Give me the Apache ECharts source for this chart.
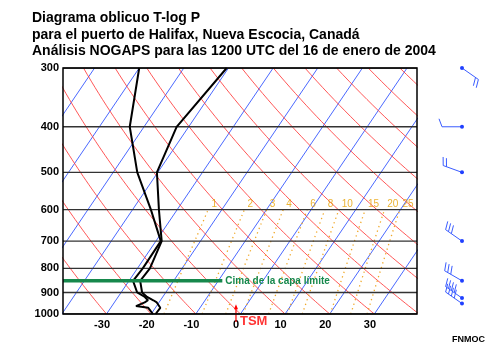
<!DOCTYPE html>
<html><head><meta charset="utf-8">
<script src="https://cdn.jsdelivr.net/npm/echarts@6/dist/echarts.min.js"></script>
<style>html,body{margin:0;padding:0;background:#fff}#c{width:500px;height:350px}</style>
</head><body><div id="c"></div>
<script>
// ---------- data ----------
const titleLines = ['Diagrama oblicuo T-log P', 'para el puerto de Halifax, Nueva Escocia, Canadá', 'Análisis NOGAPS para las 1200 UTC del 16 de enero de 2004'];
const pressureLevels = [300, 400, 500, 600, 700, 800, 900, 1000];
const tempTicks = [-30, -20, -10, 0, 10, 20, 30];
const isotherms = [-110, -100, -90, -80, -70, -60, -50, -40, -30, -20, -10, 0, 10, 20, 30, 40];
const dryAdiabats = [-50, -40, -30, -20, -10, 0, 10, 20, 30, 40, 50, 60, 70, 80, 90, 100, 110, 120, 130];
const mixingRatios = [1, 2, 3, 4, 6, 8, 10, 15, 20, 25];
const soundP  = [1000, 970, 962, 945, 935, 920, 900, 850, 800, 700, 600, 500, 400, 300];
const soundT  = [-19.0, -18.9, -19.4, -20.5, -21.6, -23.5, -25.3, -27.5, -27.2, -28.7, -34.1, -40.2, -42.7, -40.4];
const soundTd = [-19.6, -21.6, -24.6, -23.2, -22.8, -24.0, -26.4, -29.1, -28.8, -28.9, -35.9, -44.6, -53.2, -60.0];
const windP   = [300, 400, 500, 700, 850, 925, 950];
const windDir = [125, 270, 290, 305, 300, 305, 305];
const windSpd = [20, 10, 20, 30, 30, 40, 40];
const blTopP = 850, blEndT = -9.1;
const sstT = -1.0;
const blText = 'Cima de la capa límite';
const sstText = 'TSM';
const creditText = 'FNMOC';

// ---------- skew-T transform ----------
const SKEW = 31, OFFSET = 1;
const XMIN = -38.75, XMAX = 40.55;
const LN = p => Math.log(p);
const X = (T, p) => T + OFFSET + SKEW * Math.log(1000 / p);
const thetaT = (thC, p) => (thC + 273.15) * Math.pow(p / 1000, 0.286) - 273.15;
const mixT = (w, p) => { const e = w * p / (622 + w); const a = Math.log(e / 6.112); return 243.5 * a / (17.67 - a); };
const FONT = 'Liberation Sans';

const series = [];
function addLine(data, lineStyle, extra) {
  series.push(Object.assign({ type: 'line', data, symbol: 'none', silent: true, animation: false,
    xAxisIndex: 0, yAxisIndex: 0, lineStyle }, extra || {}));
}
const range = (a, b, s) => { const r = []; for (let v = a; s > 0 ? v <= b : v >= b; v += s) r.push(v); return r; };

isotherms.forEach(T => addLine([[X(T, 1000), LN(1000)], [X(T, 300), LN(300)]], { color: '#4a68ff', width: 1 }, { z: 2 }));
dryAdiabats.forEach(th => addLine(range(1000, 300, -10).map(p => [X(thetaT(th, p), p), LN(p)]), { color: '#ff3a3a', width: 1, opacity: 0.85 }, { z: 2 }));
mixingRatios.forEach(w => addLine(range(1000, 600, -10).map(p => [X(mixT(w, p), p), LN(p)]), { color: '#f0a828', width: 1.3, type: [1.3, 3.5] }, { z: 2 }));
series.push({ type: 'scatter', silent: true, animation: false, z: 3, symbolSize: 0,
  data: mixingRatios.map(w => [X(mixT(w, 585), 585), LN(585), w]),
  label: { show: true, position: 'right', distance: 1, formatter: p => String(p.value[2]), color: '#e6a000', fontSize: 10, fontFamily: FONT } });
pressureLevels.forEach(p => addLine([[XMIN, LN(p)], [XMAX, LN(p)]], { color: '#333', width: 1.4 }, { z: 4 }));
addLine(soundP.map((p, i) => [X(soundT[i], p), LN(p)]), { color: '#000', width: 2 }, { z: 6 });
addLine(soundP.map((p, i) => [X(soundTd[i], p), LN(p)]), { color: '#000', width: 2 }, { z: 6 });
addLine([[XMIN, LN(blTopP)], [X(blEndT, blTopP), LN(blTopP)]], { color: '#16884c', width: 3.5 }, { z: 7,
  endLabel: { show: true, formatter: blText, color: '#16884c', fontSize: 10, fontWeight: 'bold', fontFamily: FONT, distance: 3 } });
// SST arrow
const sx = X(sstT, 1000);
series.push({ type: 'line', silent: true, animation: false, clip: false, z: 8, xAxisIndex: 0, yAxisIndex: 0,
  lineStyle: { color: '#ff0000', width: 1.2 }, showSymbol: true,
  data: [
    { value: [sx, LN(1040)], symbol: 'none' },
    { value: [sx, LN(965)], symbol: 'triangle', symbolSize: [4, 5], itemStyle: { color: '#ff0000' } }
  ] });
series.push({ type: 'scatter', silent: true, animation: false, clip: false, z: 8, symbolSize: 0,
  data: [[sx, LN(1040)]],
  label: { show: true, position: 'right', distance: 4, formatter: sstText, color: '#ff0000', fontSize: 13, fontWeight: 'bold', fontFamily: FONT, offset: [0, -1] } });
// wind barbs
series.push({ type: 'custom', xAxisIndex: 1, yAxisIndex: 1, silent: true, animation: false, z: 5,
  data: windP.map((p, i) => [0.5, LN(p), windDir[i], windSpd[i]]),
  renderItem: (params, api) => {
    const c = api.coord([api.value(0), api.value(1)]);
    const d = api.value(2) * Math.PI / 180; let s = api.value(3);
    const vx = Math.sin(d), vy = -Math.cos(d), px = -vy, py = vx, L = 20;
    const ex = c[0] + vx * L, ey = c[1] + vy * L;
    const st = { stroke: '#3a5cff', lineWidth: 1 };
    const ch = [{ type: 'line', shape: { x1: c[0], y1: c[1], x2: ex, y2: ey }, style: st },
      { type: 'circle', shape: { cx: c[0], cy: c[1], r: 2 }, style: { fill: '#2040ff' } }];
    let pos = 0;
    while (s >= 10) {
      const bx = ex - vx * pos, by = ey - vy * pos;
      ch.push({ type: 'line', shape: { x1: bx, y1: by, x2: bx + px * 8 + vx * 3, y2: by + py * 8 + vy * 3 }, style: st });
      pos += 3.5; s -= 10;
    }
    if (s >= 5) {
      if (pos === 0) pos = 3.5;
      const bx = ex - vx * pos, by = ey - vy * pos;
      ch.push({ type: 'line', shape: { x1: bx, y1: by, x2: bx + px * 4 + vx * 1.5, y2: by + py * 4 + vy * 1.5 }, style: st });
    }
    return { type: 'group', children: ch };
  } });

const chart = echarts.init(document.getElementById('c'), null, { renderer: 'canvas' });
chart.setOption({
  animation: false,
  backgroundColor: '#fff',
  title: [
    { text: titleLines.join('\n'), left: 32, top: 10, padding: 0,
      textStyle: { fontSize: 14, fontWeight: 'bold', lineHeight: 16.5, fontFamily: FONT, color: '#000' } },
    { text: creditText, right: 15, bottom: 6, padding: 0,
      textStyle: { fontSize: 9, fontWeight: 'bold', fontFamily: FONT, color: '#000' } }
  ],
  grid: [
    { left: 63, top: 68, width: 354, height: 246, show: true, borderColor: '#000', borderWidth: 1.5, backgroundColor: 'transparent', z: 10 },
    { left: 432, top: 68, width: 60, height: 246, show: false }
  ],
  xAxis: [
    { type: 'value', gridIndex: 0, min: XMIN, max: XMAX, splitLine: { show: false }, axisLine: { show: false }, axisTick: { show: false },
      axisLabel: { customValues: tempTicks, fontSize: 11, fontWeight: 'bold', color: '#000', fontFamily: FONT, margin: 5 } },
    { type: 'value', gridIndex: 1, min: 0, max: 1, show: false }
  ],
  yAxis: [
    { type: 'value', gridIndex: 0, inverse: true, min: LN(300), max: LN(1000), splitLine: { show: false }, axisLine: { show: false }, axisTick: { show: false },
      axisLabel: { customValues: pressureLevels.map(LN), formatter: v => String(Math.round(Math.exp(v))), fontSize: 11, fontWeight: 'bold', color: '#000', fontFamily: FONT, margin: 4 } },
    { type: 'value', gridIndex: 1, inverse: true, min: LN(300), max: LN(1000), show: false }
  ],
  series
});
</script></body></html>
